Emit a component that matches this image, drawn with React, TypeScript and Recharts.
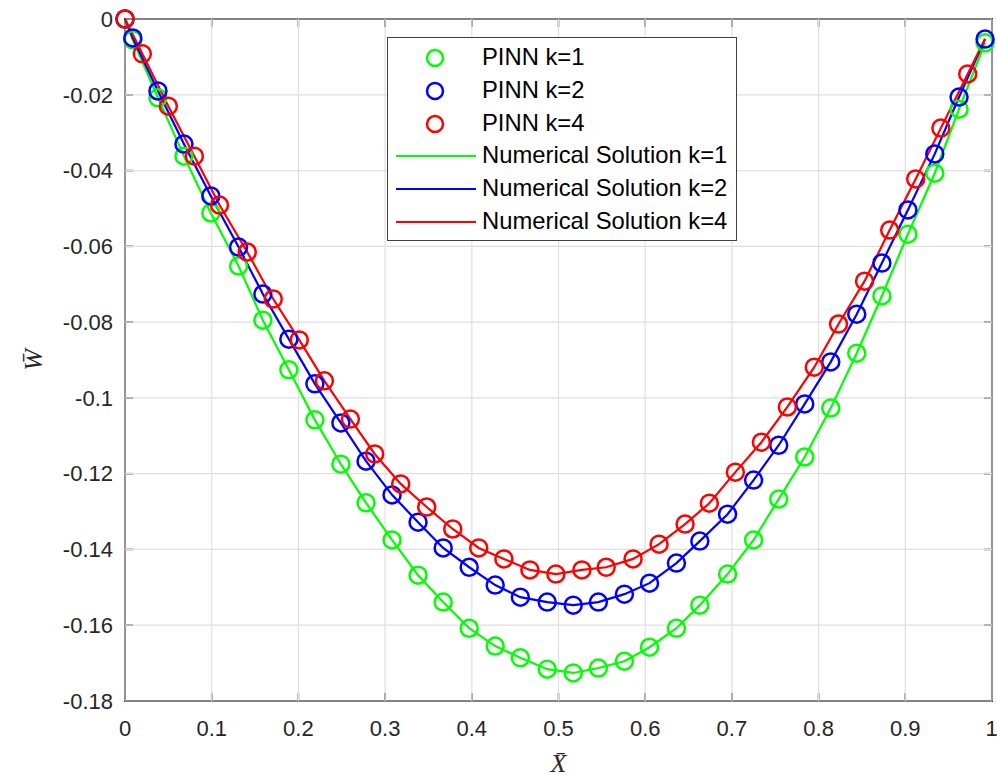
import {
  ComposedChart,
  Line,
  XAxis,
  YAxis,
  CartesianGrid,
} from 'recharts';

// PINN sample positions (k=1 and k=2 share them)
const xK12 = [0, 0.009, 0.038, 0.068, 0.099, 0.131, 0.159, 0.189, 0.219, 0.249, 0.278, 0.308, 0.338, 0.367, 0.397, 0.427, 0.456, 0.487, 0.517, 0.546, 0.576, 0.605, 0.636, 0.663, 0.695, 0.725, 0.754, 0.784, 0.814, 0.844, 0.873, 0.903, 0.934, 0.962, 0.992];
const wK1 = [0, -0.0055, -0.0208, -0.0362, -0.0512, -0.0652, -0.0795, -0.0926, -0.1058, -0.1175, -0.1277, -0.1375, -0.1468, -0.1539, -0.1608, -0.1655, -0.1686, -0.1716, -0.1726, -0.1713, -0.1695, -0.1658, -0.1608, -0.1547, -0.1465, -0.1375, -0.1267, -0.1156, -0.1027, -0.0882, -0.0731, -0.0568, -0.0407, -0.0238, -0.0063];
const wK2 = [0, -0.005, -0.019, -0.033, -0.0467, -0.0602, -0.0726, -0.0845, -0.0963, -0.1066, -0.1167, -0.1256, -0.1328, -0.1396, -0.1447, -0.1494, -0.1526, -0.1539, -0.1547, -0.1539, -0.1518, -0.1489, -0.1436, -0.1378, -0.1307, -0.1217, -0.1125, -0.1016, -0.0905, -0.0779, -0.0644, -0.0504, -0.0356, -0.0206, -0.0053];

const xK4 = [0, 0.02, 0.05, 0.08, 0.109, 0.141, 0.171, 0.201, 0.23, 0.26, 0.288, 0.318, 0.348, 0.378, 0.408, 0.437, 0.467, 0.497, 0.527, 0.555, 0.586, 0.616, 0.646, 0.674, 0.704, 0.734, 0.764, 0.795, 0.823, 0.853, 0.882, 0.912, 0.941, 0.972];
const wK4 = [0, -0.0092, -0.023, -0.0362, -0.0491, -0.0615, -0.0739, -0.0847, -0.0955, -0.1056, -0.1148, -0.1227, -0.1288, -0.1346, -0.1396, -0.1425, -0.1454, -0.1465, -0.1454, -0.1447, -0.1425, -0.1386, -0.1333, -0.1278, -0.1196, -0.1117, -0.1024, -0.0919, -0.0805, -0.0692, -0.0557, -0.0422, -0.0288, -0.0145];

// numerical solution k=4 continues to the right end
const xNumK4 = [...xK4, 0.992];
const wNumK4 = [...wK4, -0.0052];

const xTicks = [0, 0.1, 0.2, 0.3, 0.4, 0.5, 0.6, 0.7, 0.8, 0.9, 1];
const yTicks = [0, -0.02, -0.04, -0.06, -0.08, -0.1, -0.12, -0.14, -0.16, -0.18];

const GREEN = '#00ff00';
const BLUE = '#0000ff';
const RED = '#ff0000';
const AXIS = '#262626';
const SANS = '"Liberation Sans", Arial, sans-serif';
const SERIF = '"Liberation Serif", "Times New Roman", serif';

// chart layout: plot box edges in page pixels
const W = 997;
const H = 777;
const PLOT = { left: 125, top: 19, right: 992, bottom: 701 };
const X_AXIS_H = 75;
const TICK_LEN = 8;

const legendItems = [
  { name: 'PINN k=1', color: GREEN, kind: 'marker' },
  { name: 'PINN k=2', color: BLUE, kind: 'marker' },
  { name: 'PINN k=4', color: RED, kind: 'marker' },
  { name: 'Numerical Solution k=1', color: GREEN, kind: 'line' },
  { name: 'Numerical Solution k=2', color: BLUE, kind: 'line' },
  { name: 'Numerical Solution k=4', color: RED, kind: 'line' },
];

const toPoints = (xs: number[], ys: number[]) => xs.map((x, i) => ({ x, y: ys[i] }));

const ring = (color: string) => ({ r: 8.5, stroke: color, strokeWidth: 2.5, fill: 'none' });

const fmtY = (v: number) => String(Number(v.toFixed(2)));

// box around the plot with inward ticks on all four sides (MATLAB style)
function AxesBox() {
  const xMin = xTicks[0];
  const xMax = xTicks[xTicks.length - 1];
  const yMin = yTicks[yTicks.length - 1];
  const yMax = yTicks[0];
  const px = (v: number) => PLOT.left + ((v - xMin) / (xMax - xMin)) * (PLOT.right - PLOT.left);
  const py = (v: number) => PLOT.top + ((yMax - v) / (yMax - yMin)) * (PLOT.bottom - PLOT.top);
  return (
    <svg width={W} height={H} style={{ position: 'absolute', left: 0, top: 0, pointerEvents: 'none' }}>
      {xTicks.map((t) => (
        <g key={`x${t}`}>
          <line x1={px(t)} x2={px(t)} y1={PLOT.bottom} y2={PLOT.bottom - TICK_LEN} stroke={AXIS} strokeWidth={1.5} />
          <line x1={px(t)} x2={px(t)} y1={PLOT.top} y2={PLOT.top + TICK_LEN} stroke={AXIS} strokeWidth={1.5} />
        </g>
      ))}
      {yTicks.map((t) => (
        <g key={`y${t}`}>
          <line x1={PLOT.left} x2={PLOT.left + TICK_LEN} y1={py(t)} y2={py(t)} stroke={AXIS} strokeWidth={1.5} />
          <line x1={PLOT.right} x2={PLOT.right - TICK_LEN} y1={py(t)} y2={py(t)} stroke={AXIS} strokeWidth={1.5} />
        </g>
      ))}
      <rect
        x={PLOT.left}
        y={PLOT.top}
        width={PLOT.right - PLOT.left}
        height={PLOT.bottom - PLOT.top}
        fill="none"
        stroke={AXIS}
        strokeWidth={2}
      />
    </svg>
  );
}

export default function App() {
  const tickStyle = { fill: AXIS, fontSize: 22, fontFamily: SANS };
  const yMin = yTicks[yTicks.length - 1];

  return (
    <div style={{ position: 'absolute', left: 0, top: 0, width: W, height: H, background: '#fff' }}>
      <AxesBox />
      <ComposedChart
        width={W}
        height={H}
        margin={{ top: PLOT.top, right: W - PLOT.right, bottom: H - PLOT.bottom - X_AXIS_H, left: 0 }}
      >
        <CartesianGrid stroke="#dfdfdf" strokeWidth={1.2} />
        <XAxis
          dataKey="x"
          type="number"
          domain={[0, 1]}
          ticks={xTicks}
          height={X_AXIS_H}
          tickSize={0}
          tickMargin={19}
          tick={tickStyle}
          tickLine={false}
          axisLine={false}
          label={{
            value: 'X̄',
            position: 'insideBottom',
            offset: 4,
            style: { fill: AXIS, fontSize: 26, fontStyle: 'italic', fontFamily: SERIF },
          }}
        />
        <YAxis
          dataKey="y"
          type="number"
          domain={[yMin, 0]}
          ticks={yTicks}
          width={PLOT.left}
          tickSize={0}
          tickMargin={12}
          tickFormatter={fmtY}
          tick={tickStyle}
          tickLine={false}
          axisLine={false}
          label={{
            value: 'W̄',
            angle: -90,
            position: 'insideLeft',
            offset: 33,
            style: { fill: AXIS, fontSize: 26, fontStyle: 'italic', textAnchor: 'middle', fontFamily: SERIF },
          }}
        />

        {/* PINN markers: open circles, no connecting stroke */}
        <Line name="PINN k=1" data={toPoints(xK12, wK1)} dataKey="y" stroke="none" strokeWidth={0} dot={ring(GREEN)} activeDot={false} isAnimationActive={false} />
        <Line name="PINN k=2" data={toPoints(xK12, wK2)} dataKey="y" stroke="none" strokeWidth={0} dot={ring(BLUE)} activeDot={false} isAnimationActive={false} />
        <Line name="PINN k=4" data={toPoints(xK4, wK4)} dataKey="y" stroke="none" strokeWidth={0} dot={ring(RED)} activeDot={false} isAnimationActive={false} />

        <Line name="Numerical Solution k=1" data={toPoints(xK12, wK1)} dataKey="y" type="linear" stroke={GREEN} strokeWidth={2.2} dot={false} activeDot={false} isAnimationActive={false} />
        <Line name="Numerical Solution k=2" data={toPoints(xK12, wK2)} dataKey="y" type="linear" stroke={BLUE} strokeWidth={2.2} dot={false} activeDot={false} isAnimationActive={false} />
        <Line name="Numerical Solution k=4" data={toPoints(xNumK4, wNumK4)} dataKey="y" type="linear" stroke={RED} strokeWidth={2.2} dot={false} activeDot={false} isAnimationActive={false} />
      </ComposedChart>

      <div
        style={{
          position: 'absolute',
          left: 387,
          top: 37,
          width: 350,
          height: 204,
          border: '1px solid #404040',
          background: '#fff',
          boxSizing: 'border-box',
          fontFamily: SANS,
          fontSize: 23.8,
          color: '#000',
        }}
      >
        {legendItems.map((item, i) => (
          <div key={item.name} style={{ position: 'absolute', left: 0, top: 3 + i * 32.8, height: 33, width: '100%' }}>
            <svg width={90} height={33} style={{ position: 'absolute', left: 0, top: 0 }}>
              {item.kind === 'marker' ? (
                <circle cx={47} cy={17} r={8} fill="none" stroke={item.color} strokeWidth={2.5} />
              ) : (
                <line x1={8} x2={88} y1={17} y2={17} stroke={item.color} strokeWidth={2.2} />
              )}
            </svg>
            <span style={{ position: 'absolute', left: 94, top: 2, whiteSpace: 'nowrap', lineHeight: '28px' }}>{item.name}</span>
          </div>
        ))}
      </div>
    </div>
  );
}
